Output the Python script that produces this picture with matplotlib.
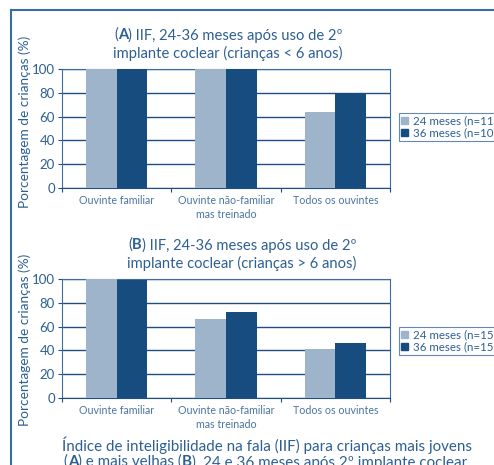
import matplotlib
matplotlib.use("Agg")
import matplotlib.pyplot as plt
import numpy as np
from matplotlib.lines import Line2D

plt.rcParams["font.family"] = ["Lato", "DejaVu Sans"]

categories = ["Ouvinte familiar", "Ouvinte não-familiar\nmas treinado", "Todos os ouvintes"]
a_24 = [100, 100, 64]
a_36 = [100, 100, 80]
b_24 = [100, 66, 41]
b_36 = [99, 72, 46]
labels_a = ["24 meses (n=11)", "36 meses (n=10)"]
labels_b = ["24 meses (n=15)", "36 meses (n=15)"]
y_ticks = [0, 20, 40, 60, 80, 100]

TXT = "#2d5f93"
LIGHT = "#9db4cb"
DARK = "#174c7f"
GRID = "#1f4f80"
FRAME = "#3a6da3"

W, H = 494, 465
fig = plt.figure(figsize=(W / 100, H / 100), dpi=100)


def rich_line(pieces, xc, y, size):
    # draw a line made of normal/bold pieces centred on xc (figure coords)
    arts = []
    for txt, wt in pieces:
        arts.append(fig.text(0, y, txt, fontsize=size, fontweight=wt,
                             color=TXT, va="center", ha="left"))
    fig.canvas.draw()
    r = fig.canvas.get_renderer()
    widths = [a.get_window_extent(r).width / W for a in arts]
    x = xc - sum(widths) / 2
    for a, w in zip(arts, widths):
        a.set_x(x)
        x += w


def panel(rect, v24, v36, labels, title_pieces, title2, title_xc, title_y, leg_top, ylab_y):
    ax = fig.add_axes(rect)
    x = np.arange(len(categories))
    bw = 0.28
    ax.bar(x - bw / 2, v24, bw, color=LIGHT, zorder=3)
    ax.bar(x + bw / 2, v36, bw, color=DARK, zorder=3)
    ax.set_xlim(-0.5, 2.5)
    ax.set_ylim(0, 100)
    ax.set_yticks(y_ticks)
    ax.tick_params(axis="y", colors=GRID, labelcolor=TXT, labelsize=9.5,
                   length=3, width=0.8, pad=2)
    ax.set_xticks(x)
    ax.set_xticklabels(categories, fontsize=7.7, color="#4a74a0", linespacing=1.3)
    ax.tick_params(axis="x", length=0, pad=5)
    ax.set_xticks([-0.5, 0.5, 1.5, 2.5], minor=True)
    ax.tick_params(axis="x", which="minor", length=3, width=0.8, color=GRID)
    ax.yaxis.grid(True, color=GRID, linewidth=1.0, zorder=0)
    for s in ax.spines.values():
        s.set_color(FRAME)
        s.set_linewidth(0.8)
    ax.spines["bottom"].set_color(GRID)
    fig.text(0.05, ylab_y, "Porcentagem de crianças (%)", rotation=90,
             fontsize=9.8, color=TXT, ha="center", va="center")
    rich_line(title_pieces, title_xc, title_y, 10.6)
    fig.text(title_xc, title_y - 0.039, title2, fontsize=10.6, color=TXT,
             ha="center", va="center")
    handles = [plt.Rectangle((0, 0), 1, 1, color=LIGHT),
               plt.Rectangle((0, 0), 1, 1, color=DARK)]
    leg = fig.legend(handles, labels, loc="upper left",
                     bbox_to_anchor=(399 / W, leg_top), fontsize=8.3,
                     frameon=True, fancybox=False, handlelength=0.6,
                     handleheight=0.6, handletextpad=0.4, borderpad=0.2,
                     labelspacing=0.1, borderaxespad=0)
    leg.get_frame().set_edgecolor(FRAME)
    leg.get_frame().set_linewidth(0.8)
    for t in leg.get_texts():
        t.set_color(TXT)
    return ax


panel([62 / W, 1 - 188 / H, 328 / W, 119 / H], a_24, a_36, labels_a,
      [("(", "normal"), ("A", "bold"), (") IIF, 24-36 meses após uso de 2º", "normal")],
      "implante coclear (crianças < 6 anos)", 0.462, 1 - 35 / H, 1 - 113 / H, 1 - 122 / H)

panel([62 / W, 1 - 398 / H, 328 / W, 119 / H], b_24, b_36, labels_b,
      [("(", "normal"), ("B", "bold"), (") IIF, 24-36 meses após uso de 2º", "normal")],
      "implante coclear (crianças > 6 anos)", 0.49, 1 - 245 / H, 1 - 327 / H, 1 - 340 / H)

# caption
rich_line([("Índice de inteligibilidade na fala (IIF) para crianças mais jovens", "normal")],
          0.541, 1 - 445 / H, 10.9)
rich_line([("(", "normal"), ("A", "bold"), (") e mais velhas (", "normal"), ("B", "bold"),
           ("), 24 e 36 meses após 2º implante coclear.", "normal")],
          0.541, 1 - 462 / H, 10.9)

# outer frame
fig.add_artist(Line2D([11 / W, 11 / W], [0, 1 - 10 / H], color=FRAME, lw=1.5,
                      transform=fig.transFigure))
fig.add_artist(Line2D([11 / W, 1], [1 - 10 / H, 1 - 10 / H], color=FRAME, lw=1.5,
                      transform=fig.transFigure))

fig.savefig("out.png", dpi=100)
